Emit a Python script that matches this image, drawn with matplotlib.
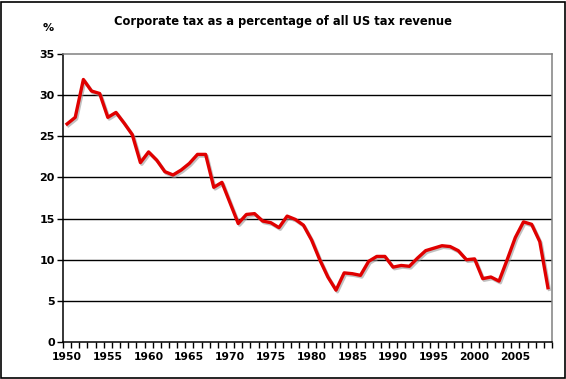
import numpy as np
import matplotlib
matplotlib.use("Agg")
import matplotlib.pyplot as plt
import matplotlib.patheffects as pe
from matplotlib.patches import Rectangle

years = list(range(1950, 2010))
share = [
    26.5, 27.3, 31.9, 30.5, 30.2, 27.3, 27.9, 26.6, 25.2, 21.8,
    23.1, 22.1, 20.7, 20.3, 20.9, 21.7, 22.8, 22.8, 18.8, 19.4,
    16.9, 14.4, 15.5, 15.6, 14.7, 14.5, 13.9, 15.3, 14.9, 14.2,
    12.4, 10.0, 7.9, 6.3, 8.4, 8.3, 8.1, 9.8, 10.4, 10.4,
    9.1, 9.3, 9.2, 10.2, 11.1, 11.4, 11.7, 11.6, 11.1, 10.0,
    10.1, 7.7, 7.9, 7.4, 10.0, 12.7, 14.6, 14.3, 12.2, 6.6,
]
y_ticks = [0, 5, 10, 15, 20, 25, 30, 35]
x_labels = list(range(1950, 2010, 5))

fig = plt.figure(figsize=(5.66, 3.79), dpi=100)
ax = fig.add_axes([63 / 566, 1 - 342 / 379, (552 - 63) / 566, (342 - 54) / 379])

ax.plot(years, share, color="#e00000", lw=2.4, solid_joinstyle="round",
        path_effects=[pe.SimpleLineShadow(offset=(1, -1.2), shadow_color="#999999", alpha=0.6),
                      pe.Normal()], zorder=3)

ax.set_xlim(1949.5, 2009.5)
ax.set_ylim(0, 35)

for v in y_ticks[1:-1]:
    ax.axhline(v, color="black", lw=1.0, zorder=1)

ax.set_yticks(y_ticks)
ax.set_yticklabels([str(v) for v in y_ticks], fontsize=8, fontweight="bold")
ax.tick_params(axis="y", direction="out", length=4, width=1, pad=2)

# category boundaries get tick marks, labels sit at the category centres
ax.set_xticks(np.arange(1949.5, 2010, 1.0), minor=True)
ax.set_xticks(x_labels)
ax.set_xticklabels([str(v) for v in x_labels], fontsize=7.8, fontweight="bold")
ax.tick_params(axis="x", which="major", length=0, pad=7)
ax.tick_params(axis="x", which="minor", direction="out", length=4, width=1)

ax.spines["left"].set_color("black")
ax.spines["bottom"].set_color("black")
ax.spines["top"].set_color("#808080")
ax.spines["right"].set_color("#808080")
for s in ax.spines.values():
    s.set_linewidth(1.1)

fig.text(283 / 566, 1 - 22 / 379, "Corporate tax as a percentage of all US tax revenue",
         ha="center", va="center", fontsize=8.3, fontweight="bold")
fig.text(48 / 566, 1 - 28 / 379, "%", ha="center", va="center", fontsize=8, fontweight="bold")

fig.patches.append(Rectangle((0.5 / 566, 1 / 379), 564 / 566, 376 / 379, transform=fig.transFigure,
                             fill=False, edgecolor="black", lw=1.2))

fig.savefig("out.png", dpi=100)
